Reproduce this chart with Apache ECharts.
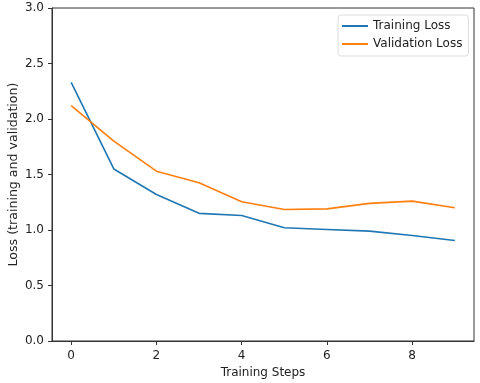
<!DOCTYPE html>
<html>
<head>
<meta charset="utf-8">
<script src="https://cdn.jsdelivr.net/npm/echarts@6/dist/echarts.min.js"></script>
<style>
  html, body { margin: 0; padding: 0; background: #fff; }
  #chart { width: 480px; height: 383px; }
</style>
</head>
<body>
<div id="chart"></div>
<script>
// values
const steps = [0, 1, 2, 3, 4, 5, 6, 7, 8, 9];
const trainingLoss = [2.33, 1.55, 1.32, 1.15, 1.13, 1.02, 1.005, 0.99, 0.95, 0.905];
const validationLoss = [2.12, 1.80, 1.53, 1.425, 1.255, 1.185, 1.19, 1.24, 1.26, 1.20];
const xTicks = [0, 2, 4, 6, 8];

const font = 'DejaVu Sans';
const chart = echarts.init(document.getElementById('chart'));

const toPairs = vals => steps.map((s, i) => [s, vals[i]]);

chart.setOption({
  animation: false,
  textStyle: { fontFamily: font },
  grid: {
    left: 52, right: 6, top: 8, bottom: 42,
    outerBoundsMode: 'none',
    containLabel: false,
    show: true, borderColor: '#333', borderWidth: 1
  },
  legend: {
    left: 338, top: 15,
    orient: 'vertical',
    padding: [5, 6, 6, 4],
    itemGap: 6,
    itemWidth: 26, itemHeight: 2,
    icon: 'rect',
    borderColor: '#ddd', borderWidth: 1, borderRadius: 3,
    backgroundColor: '#fff',
    textStyle: { fontFamily: font, fontSize: 12, color: '#222' },
    data: ['Training Loss', 'Validation Loss']
  },
  xAxis: {
    type: 'value',
    min: -0.45, max: 9.45,
    name: 'Training Steps',
    nameLocation: 'middle',
    nameGap: 26,
    nameMoveOverlap: false,
    nameTextStyle: { fontFamily: font, fontSize: 12, color: '#222' },
    axisLine: { show: true, onZero: false, lineStyle: { color: '#333' } },
    axisTick: { show: true, length: 4, customValues: xTicks, lineStyle: { color: '#333' } },
    axisLabel: { customValues: xTicks, margin: 9, fontFamily: font, fontSize: 12, color: '#222' },
    splitLine: { show: false }
  },
  yAxis: {
    type: 'value',
    min: 0, max: 3, interval: 0.5,
    name: 'Loss (training and validation)',
    nameLocation: 'middle',
    nameGap: 32,
    nameMoveOverlap: false,
    nameTextStyle: { fontFamily: font, fontSize: 12.6, color: '#222' },
    axisLine: { show: true, onZero: false, lineStyle: { color: '#333' } },
    axisTick: { show: true, length: 4, lineStyle: { color: '#333' } },
    axisLabel: {
      margin: 8, fontFamily: font, fontSize: 12, color: '#222',
      formatter: v => v.toFixed(1)
    },
    splitLine: { show: false }
  },
  series: [
    {
      name: 'Training Loss',
      type: 'line',
      data: toPairs(trainingLoss),
      showSymbol: false,
      color: '#1f77b4',
      lineStyle: { width: 1.6, color: '#1f77b4' }
    },
    {
      name: 'Validation Loss',
      type: 'line',
      data: toPairs(validationLoss),
      showSymbol: false,
      color: '#ff7f0e',
      lineStyle: { width: 1.6, color: '#ff7f0e' }
    }
  ]
});
</script>
</body>
</html>
